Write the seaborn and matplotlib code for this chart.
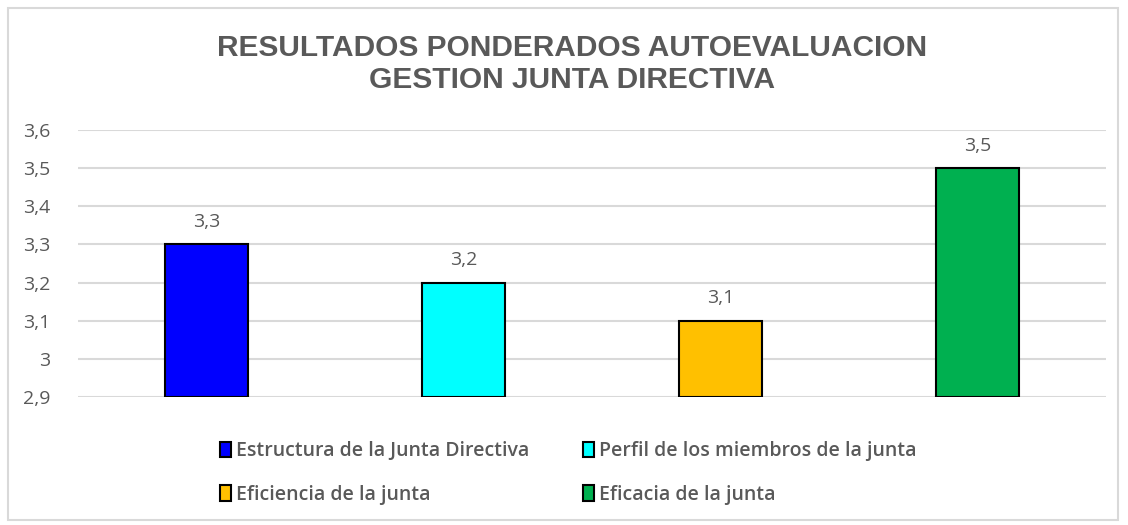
import matplotlib
matplotlib.use("Agg")
import matplotlib.pyplot as plt
import seaborn as sns
import pandas as pd
from matplotlib.ticker import FuncFormatter, MultipleLocator
from matplotlib.patches import Rectangle

categories = ["Estructura de la Junta Directiva", "Perfil de los miembros de la junta",
              "Eficiencia de la junta", "Eficacia de la junta"]
values = [3.3, 3.2, 3.1, 3.5]
colors = ["#0000FF", "#00FFFF", "#FFC000", "#00B050"]
title = "RESULTADOS PONDERADOS AUTOEVALUACION\nGESTION JUNTA DIRECTIVA"

sns.set_theme(style="white")
plt.rcParams['font.family'] = ['Liberation Sans', 'DejaVu Sans']

df = pd.DataFrame({"cat": categories, "val": values})

fig = plt.figure(figsize=(11.28, 5.25), dpi=100)
fig.patches.append(Rectangle((8/1128, 5/525), 1110/1128, 512/525, transform=fig.transFigure,
                             fill=False, edgecolor="#D9D9D9", linewidth=1.5))
ax = fig.add_axes([78/1128, 1-397/525, (1106-78)/1128, (397-130)/525])

base = 2.9
sns.barplot(data=df, x="cat", y="val", hue="cat", palette=colors, ax=ax, width=0.32,
            edgecolor="black", linewidth=1.5, legend=False)
# redraw bars starting from the axis base 2.9
for p in list(ax.patches):
    p.remove()
for i, (c, v, col) in enumerate(zip(categories, values, colors)):
    ax.bar(i, v - base, bottom=base, width=0.32, color=col, edgecolor="black",
           linewidth=1.5, zorder=3, label=c)
    ax.text(i, v + 0.035, f"{v:.1f}".replace(".", ","), ha="center", va="bottom",
            fontsize=14, color="#595959", family=["Open Sans", "DejaVu Sans"])

ax.set_xlim(-0.5, 3.5)
ax.set_ylim(2.9, 3.6)
ax.yaxis.set_major_locator(MultipleLocator(0.1))
ax.yaxis.set_major_formatter(FuncFormatter(lambda y, _: (f"{y:.1f}" if abs(y-3) > 1e-6 else "3").replace(".", ",")))
ax.grid(axis="y", color="#D9D9D9", linewidth=1.5, zorder=0)
ax.set_axisbelow(True)
for s in ax.spines.values():
    s.set_visible(False)
ax.set_xticks([])
ax.set_xlabel("")
ax.set_ylabel("")
ax.tick_params(axis="y", length=0, pad=20, labelsize=14, labelcolor="#595959")
for t in ax.get_yticklabels():
    t.set_family(["Open Sans", "DejaVu Sans"])

fig.text(0.507, 1-64/525, title, ha="center", va="center", fontsize=21.5, fontweight="bold",
         color="#595959", linespacing=1.2)

h, l = ax.get_legend_handles_labels()
order = [0, 2, 1, 3]
leg = fig.legend([h[i] for i in order], [l[i] for i in order], ncol=2, loc="center left",
                 bbox_to_anchor=(202/1128, 1-473/525), frameon=False, handlelength=0.6,
                 handleheight=0.85, handletextpad=0.25, columnspacing=2.75, labelspacing=1.2,
                 prop={"family": ["Open Sans", "DejaVu Sans"], "size": 14, "weight": "semibold"})
for t in leg.get_texts():
    t.set_color("#595959")

fig.savefig("out.png", dpi=100, facecolor="white")
